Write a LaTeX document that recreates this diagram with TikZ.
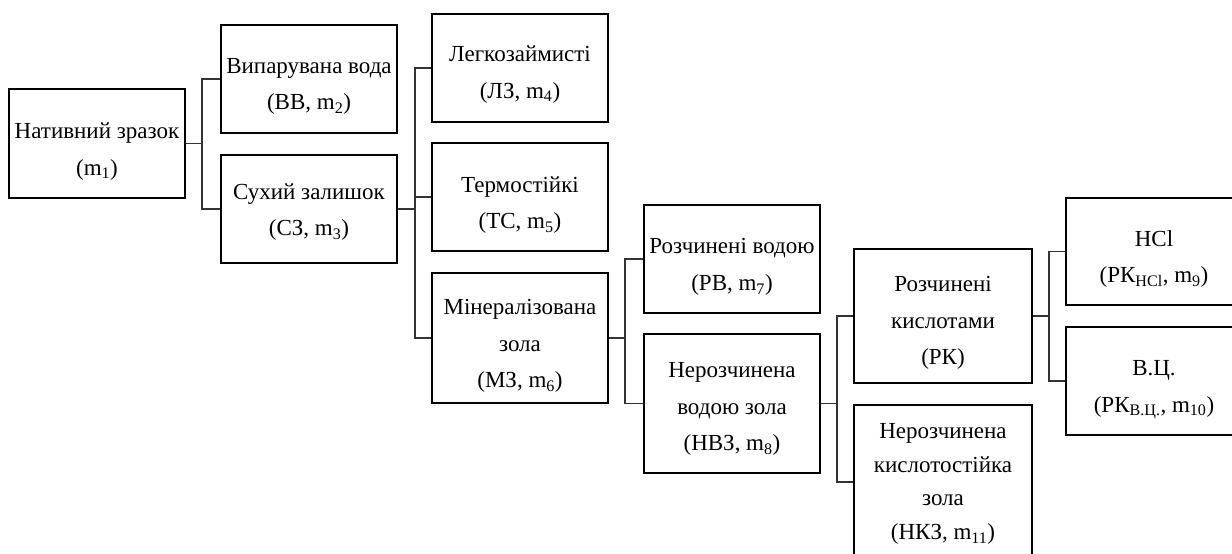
\documentclass[tikz,border=0pt]{standalone}
\usepackage{fontspec}
\setmainfont{Liberation Serif}
\newcommand\bx[5][]{%
  \node[box,#1] (#2) at #3 {};
  \node[txt] (#2t) at ([yshift=-#4pt]#2.center) {#5};}
\begin{document}
\begin{tikzpicture}[x=1pt,y=-1pt,
  box/.style={draw=black,line width=1.3pt,minimum width=176pt,minimum height=108pt,inner sep=0pt},
  txt/.style={inner sep=0pt,align=center,font=\fontsize{23}{36.5}\selectfont},
  conn/.style={draw=black!80,line width=1.1pt}]
\clip (0,0) rectangle (1232,554);
\useasboundingbox (0,0) rectangle (1232,554);
\bx[minimum height=109pt]{n1}{(97,143.5)}{8}{Нативний зразок\\(m\textsubscript{1})}
\bx{n2}{(309,79)}{7.5}{Випарувана вода\\(ВВ, m\textsubscript{2})}
\bx{n3}{(309,209)}{3}{Сухий залишок\\(СЗ, m\textsubscript{3})}
\bx{n4}{(520,68)}{6.5}{Легкозаймисті\\(ЛЗ, m\textsubscript{4})}
\bx{n5}{(520,197)}{8}{Термостійкі\\(ТС, m\textsubscript{5})}
\bx[minimum height=130pt]{n6}{(520,338)}{8}{Мінералізована\\зола\\(МЗ, m\textsubscript{6})}
\bx{n7}{(732,259)}{8}{Розчинені водою\\(РВ, m\textsubscript{7})}
\bx[minimum height=139pt]{n8}{(732,403.5)}{5.5}{Нерозчинена\\водою зола\\(НВЗ, m\textsubscript{8})}
\bx[minimum width=178pt,minimum height=134pt]{n9}{(943,316)}{7}{Розчинені\\кислотами\\(РК)}
\node[box,minimum width=178pt,minimum height=154pt] (n11) at (943,482) {};
\node[txt,font=\fontsize{23}{33.5}\selectfont] (n11t) at ([yshift=-2pt]n11.center) {Нерозчинена\\кислотостійка\\зола\\(НКЗ, m\textsubscript{11})};
\bx[minimum height=107pt]{n10}{(1154,251.5)}{7.5}{HCl\\(РК\textsubscript{HCl}, m\textsubscript{9})}
\bx{n12}{(1154,381)}{9}{В.Ц.\\(РК\textsubscript{В.Ц.}, m\textsubscript{10})}
\coordinate (j1) at (202,143.5);
\coordinate (j2) at (415,209);
\coordinate (j3) at (625,338);
\coordinate (j4) at (837,403.5);
\coordinate (j5) at (1049,316);
\draw[conn] (n1.east) -- (j1);
\draw[conn] (n2.west) -| (j1) |- (n3.west);
\draw[conn] (n3.east) -- (j2);
\draw[conn] (n4.west) -| (j2) |- (n6.west);
\draw[conn] (n5.west) -- (n5.west -| j2);
\draw[conn] (n6.east) -- (j3);
\draw[conn] (n7.west) -| (j3) |- (n8.west);
\draw[conn] (n8.east) -- (j4);
\draw[conn] (n9.west) -| (j4) |- (n11.west);
\draw[conn] (n9.east) -- (j5);
\draw[conn] (n10.west) -| (j5) |- (n12.west);
\end{tikzpicture}
\end{document}
